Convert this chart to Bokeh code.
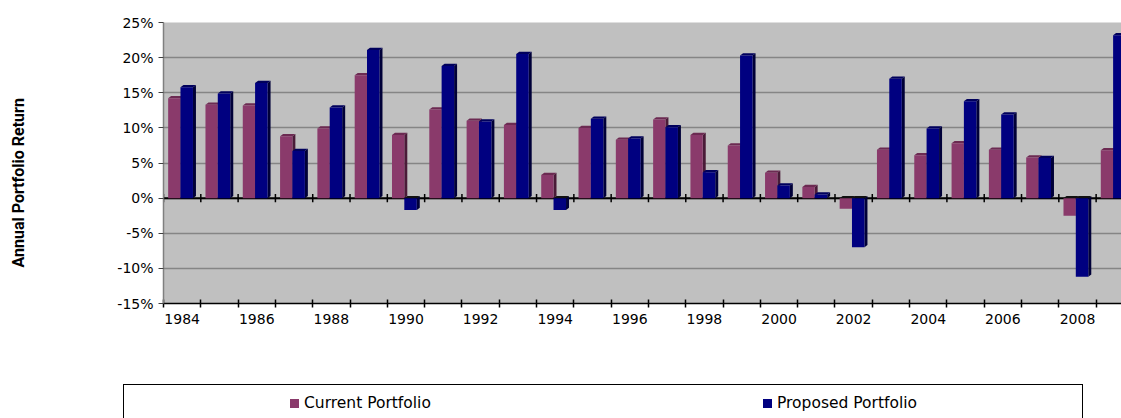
from bokeh.plotting import figure
from bokeh.models import (Range1d, FixedTicker, PrintfTickFormatter, Span, Div,
                          Title, LinearAxis)
from bokeh.layouts import column
from bokeh.embed import file_html
from bokeh.resources import INLINE

# Annual returns (%) by year
years = list(range(1984, 2010))
current = [14.2, 13.3, 13.2, 8.8, 9.9, 17.5, 9.0, 12.6, 11.0, 10.4, 3.3, 10.0, 8.3,
           11.2, 9.0, 7.5, 3.6, 1.6, -1.5, 6.9, 6.1, 7.8, 6.9, 5.8, -2.5, 6.8]
proposed = [15.8, 14.9, 16.4, 6.7, 12.9, 21.1, -1.7, 18.8, 10.9, 20.5, -1.7, 11.3, 8.5,
            10.1, 3.7, 20.3, 1.8, 0.5, -7.0, 17.0, 9.9, 13.8, 11.9, 5.7, -11.2, 23.2]
series_names = ["Current Portfolio", "Proposed Portfolio"]
y_ticks = [-15, -10, -5, 0, 5, 10, 15, 20, 25]

front_colors = ["#8A3A6B", "#000080"]
top_colors = ["#6C2A52", "#00005C"]
side_colors = ["#4A1B38", "#000038"]
under_top = "#111111"

# bar placement inside each category slot (slot width = 1), and 3D depth
bar_spans = [(0.125, 0.455), (0.455, 0.79)]
DX, DY = 0.08, 0.32
n = len(years)

p = figure(width=1121, height=370,
           x_range=Range1d(0, 25.68), y_range=Range1d(-15, 25),
           output_backend="svg", toolbar_location=None,
           min_border_left=163, min_border_right=0,
           min_border_top=22, min_border_bottom=67,
           background_fill_color="#C0C0C0", border_fill_color="white",
           outline_line_color=None)

# zero line with crossing ticks at slot boundaries
p.add_layout(Span(location=0, dimension="width", line_color="black",
                  line_width=2, level="underlay"))
bounds = list(range(n + 1))
p.segment(x0=bounds, y0=[-0.6] * len(bounds), x1=bounds, y1=[0.6] * len(bounds),
          line_color="black", line_width=1.5)

for s, vals in enumerate([current, proposed]):
    a, b = bar_spans[s]
    lefts = [i + a for i in range(n)]
    rights = [i + b for i in range(n)]
    tops = [max(v, 0) for v in vals]
    bots = [min(v, 0) for v in vals]
    # right-hand side faces
    side_xs = [[r, r + DX, r + DX, r] for r in rights]
    side_ys = [[0, DY, v + DY, v] for v in vals]
    p.patches(side_xs, side_ys, fill_color=side_colors[s], line_color=None)
    # top faces (shadowed at the zero plane for negative years)
    top_xs = [[l, r, r + DX, l + DX] for l, r in zip(lefts, rights)]
    top_ys = [[t, t, t + DY, t + DY] for t in tops]
    top_fill = [top_colors[s] if v >= 0 else under_top for v in vals]
    p.patches(top_xs, top_ys, fill_color=top_fill, line_color=None)
    # front faces
    p.quad(left=lefts, right=rights, top=tops, bottom=bots,
           fill_color=front_colors[s], line_color=None)

# y axis
p.yaxis.ticker = FixedTicker(ticks=y_ticks)
p.yaxis.formatter = PrintfTickFormatter(format="%d%%")
p.yaxis.axis_line_color = "#808080"
p.yaxis.axis_line_width = 1.5
p.yaxis.major_tick_in = 0
p.yaxis.major_tick_out = 5
p.yaxis.major_tick_line_color = "#404040"
p.yaxis.minor_tick_line_color = None
p.yaxis.major_label_standoff = 5
p.yaxis.major_label_text_font = "DejaVu Sans"
p.yaxis.major_label_text_font_size = "14px"
p.yaxis.major_label_text_color = "black"

# blank gutter between the tick labels and the vertical title
p.add_layout(LinearAxis(ticker=FixedTicker(ticks=[0]), major_label_overrides={0: ""},
                        axis_line_color=None, major_tick_line_color=None,
                        minor_tick_line_color=None, major_tick_in=0,
                        major_tick_out=82, minor_tick_in=0, minor_tick_out=0,
                        major_label_standoff=0), "left")

# vertical title, reading upward from just above the bottom of the plot
p.add_layout(Title(text="Annual Portfolio Return", align="left", offset=36,
                   standoff=10, text_font="Roboto", text_font_style="bold",
                   text_font_size="16px", text_color="black"), "left")

# x axis: labels on every other year, ticks on slot boundaries
label_pos = [i + 0.5 for i, y in enumerate(years) if y % 2 == 0]
p.xaxis.ticker = FixedTicker(ticks=label_pos, minor_ticks=bounds)
p.xaxis.major_label_overrides = {i + 0.5: str(y) for i, y in enumerate(years) if y % 2 == 0}
p.xaxis.axis_line_color = "black"
p.xaxis.axis_line_width = 1.5
p.xaxis.major_tick_line_color = None
p.xaxis.major_tick_in = 0
p.xaxis.major_tick_out = 0
p.xaxis.minor_tick_line_color = "black"
p.xaxis.minor_tick_line_width = 1.5
p.xaxis.minor_tick_in = 4
p.xaxis.minor_tick_out = 4
p.xaxis.major_label_standoff = 6
p.xaxis.major_label_text_font = "DejaVu Sans"
p.xaxis.major_label_text_font_size = "14px"
p.xaxis.major_label_text_color = "black"

p.xgrid.grid_line_color = None
p.ygrid.grid_line_color = "#858585"
p.ygrid.grid_line_width = 1.5

# legend strip: open-bottomed box with one entry per series
entry_left = [290, 763]
entries = "".join(
    f'<div style="position:absolute;left:{x}px;top:24px;height:18px;'
    f'display:flex;align-items:center;white-space:nowrap;">'
    f'<span style="display:inline-block;width:9px;height:9px;background:{c};'
    f'margin-right:5px;"></span>{name}</div>'
    for x, c, name in zip(entry_left, front_colors, series_names))
legend_html = (
    '<div style="position:relative;width:1121px;height:48px;overflow:hidden;'
    "font-family:'DejaVu Sans';font-size:15.5px;color:black;line-height:18px;\">"
    '<div style="position:absolute;left:123px;top:14px;width:960px;height:80px;'
    'border-top:1px solid black;border-left:1px solid black;'
    'border-right:1px solid black;box-sizing:border-box;"></div>'
    + entries + '</div>')
legend_div = Div(text=legend_html, width=1121, height=48, margin=(0, 0, 0, 0))

layout = column(p, legend_div, spacing=0)
open("out.html", "w").write(file_html(layout, INLINE))
